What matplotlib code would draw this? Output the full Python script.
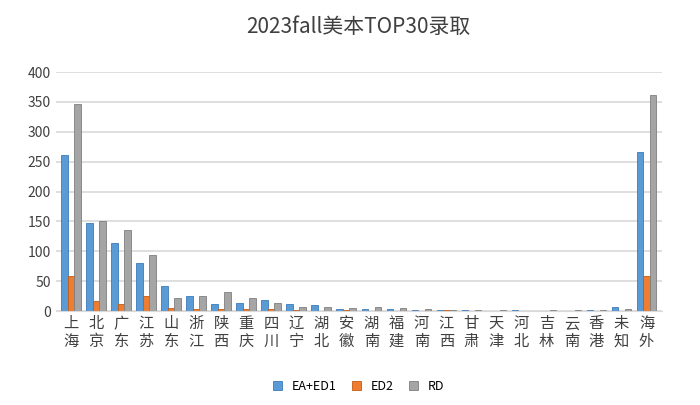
import matplotlib.pyplot as plt
import numpy as np

plt.rcParams['font.family'] = ['Noto Sans CJK SC', 'DejaVu Sans']

provinces = ['上海', '北京', '广东', '江苏', '山东', '浙江', '陕西', '重庆', '四川', '辽宁', '湖北', '安徽',
             '湖南', '福建', '河南', '江西', '甘肃', '天津', '河北', '吉林', '云南', '香港', '未知', '海外']
ea_ed1 = [262, 148, 114, 81, 42, 25, 12, 14, 19, 11, 10, 4, 3, 3, 2, 2, 1, 0, 1, 0, 0, 2, 6, 267]
ed2 = [58, 17, 12, 25, 5, 3, 3, 4, 3, 2, 0, 2, 0, 0, 0, 1, 0, 0, 0, 0, 0, 0, 0, 58]
rd = [346, 150, 135, 94, 22, 26, 32, 21, 13, 6, 7, 5, 6, 5, 3, 2, 1, 1, 0, 1, 1, 2, 3, 362]

fig, ax = plt.subplots(figsize=(7, 4.05), dpi=100)
fig.subplots_adjust(left=0.08, right=0.945, top=0.822, bottom=0.232)

x = np.arange(len(provinces))
w = 0.26
ax.bar(x - w, ea_ed1, w, color='#5b9bd5', edgecolor='#3d7ab8', linewidth=0.6, label='EA+ED1')
ax.bar(x, ed2, w, color='#ed7d31', edgecolor='#c55a11', linewidth=0.6, label='ED2')
ax.bar(x + w, rd, w, color='#a5a5a5', edgecolor='#7f7f7f', linewidth=0.6, label='RD')

ax.set_ylim(0, 400)
ax.set_yticks(range(0, 401, 50))
ax.set_xlim(-0.6, len(provinces) - 0.4)
ax.set_xticks(x)
ax.set_xticklabels(['\n'.join(p) for p in provinces], fontsize=11, color='#404040', linespacing=1.05)
ax.tick_params(axis='y', labelsize=10, colors='#404040', length=0)
ax.tick_params(axis='x', length=0, pad=3)
ax.grid(axis='y', color='#d9d9d9', linewidth=1.2)
ax.set_axisbelow(True)
for s in ['top', 'right', 'left']:
    ax.spines[s].set_visible(False)
ax.spines['bottom'].set_color('#d9d9d9')

ax.set_title('2023fall美本TOP30录取', fontsize=15, color='#404040', pad=28)
ax.legend(loc='upper center', bbox_to_anchor=(0.5, -0.24), ncol=3, frameon=False,
          fontsize=9, handlelength=0.7, handleheight=0.7, columnspacing=1.2)

plt.savefig('out.png')
